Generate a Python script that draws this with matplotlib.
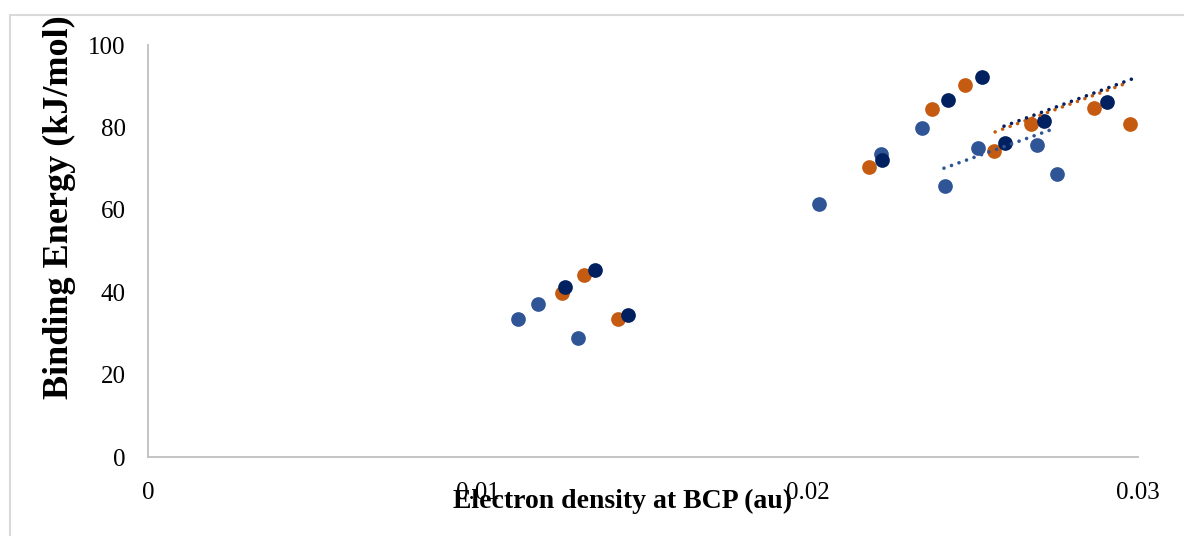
# Binding energy vs electron density at the bond critical point
import numpy as np
import matplotlib.pyplot as plt
from matplotlib.patches import Rectangle

plt.rcParams['font.family'] = ['Liberation Serif', 'DejaVu Serif']

# three data series (electron density in au, binding energy in kJ/mol)
x_blue = [0.01121, 0.01182, 0.01303, 0.02033, 0.02221, 0.02345, 0.02415, 0.02515, 0.02694, 0.02755]
y_blue = [33.5, 37.1, 28.9, 61.4, 73.5, 79.9, 65.8, 75.0, 75.7, 68.7]

x_orange = [0.01255, 0.01321, 0.01424, 0.02185, 0.02376, 0.02476, 0.02564, 0.02676, 0.02867, 0.02976]
y_orange = [39.8, 44.2, 33.5, 70.4, 84.5, 90.3, 74.3, 80.8, 84.7, 80.8]

x_navy = [0.01264, 0.01355, 0.01455, 0.02224, 0.02424, 0.02527, 0.02597, 0.02715, 0.02906]
y_navy = [41.3, 45.4, 34.5, 72.1, 86.7, 92.2, 76.2, 81.6, 86.2]

# linear trendlines (start / end)
trend_blue_x = [0.02412, 0.02742]
trend_blue_y = [70.1, 79.6]
trend_orange_x = [0.02567, 0.02967]
trend_orange_y = [78.9, 90.8]
trend_navy_x = [0.02594, 0.02997]
trend_navy_y = [80.3, 92.2]

c_blue = '#2F5597'
c_orange = '#C55A11'
c_navy = '#002060'

fig = plt.figure(figsize=(11.84, 5.36), dpi=100)
ax = fig.add_axes([148/1184, 1 - 457/536, 990/1184, 412/536])

# light frame around the chart
fig.patches.append(Rectangle((10/1184, -0.1), 1.2, 1.1 - 15/536, transform=fig.transFigure,
                             fill=False, edgecolor='#d9d9d9', lw=1.5))

for xs, ys, c in [(x_blue, y_blue, c_blue), (x_orange, y_orange, c_orange), (x_navy, y_navy, c_navy)]:
    ax.scatter(xs, ys, s=112, color=c, linewidths=0, zorder=3)

for xs, ys, c in [(trend_blue_x, trend_blue_y, c_blue), (trend_orange_x, trend_orange_y, c_orange),
                  (trend_navy_x, trend_navy_y, c_navy)]:
    ax.plot(xs, ys, color=c, lw=2.6, dashes=(0.01, 2.2), dash_capstyle='round', zorder=4)

ax.set_xlim(0, 0.03)
ax.set_ylim(0, 100)
ax.set_xticks([0, 0.01, 0.02, 0.03])
ax.set_xticklabels(['0', '0.01', '0.02', '0.03'])
ax.set_yticks(np.arange(0, 101, 20))
ax.tick_params(axis='both', length=0, labelsize=18)
ax.tick_params(axis='x', pad=18)
ax.tick_params(axis='y', pad=16)

for side in ['top', 'right']:
    ax.spines[side].set_visible(False)
for side in ['left', 'bottom']:
    ax.spines[side].set_color('#bfbfbf')
    ax.spines[side].set_linewidth(1.3)

ax.set_xlabel('Electron density at BCP (au)', fontsize=20, fontweight='bold', va='baseline')
ax.xaxis.set_label_coords(0.479, -0.1238)
ax.set_ylabel('Binding Energy (kJ/mol)', fontsize=26, fontweight='bold', va='center')
ax.yaxis.set_label_coords(-0.0899, 0.607)

fig.savefig('out.png', dpi=100)
